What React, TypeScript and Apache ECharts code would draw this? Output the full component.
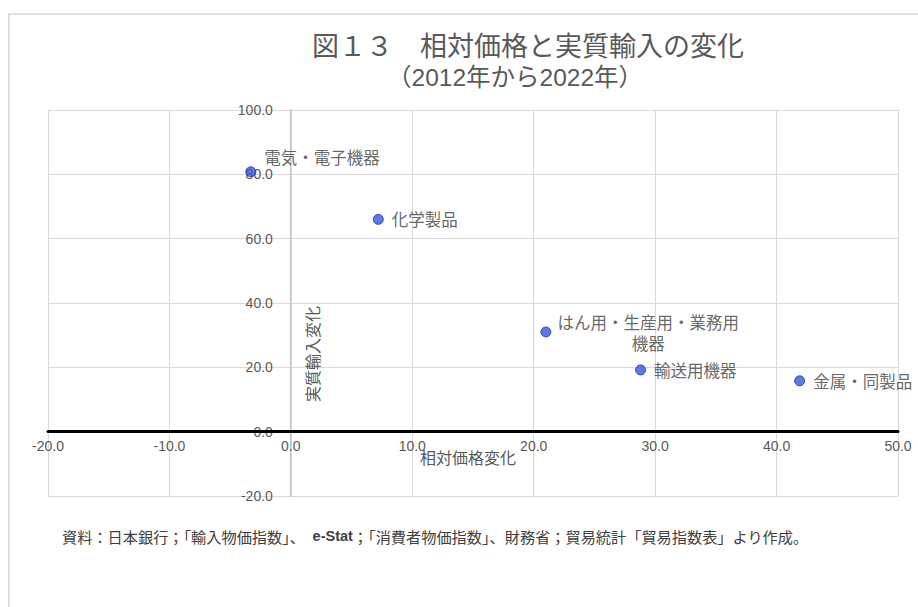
import React, { useEffect, useRef } from "react";
import * as echarts from "echarts";

const categories = ["電気・電子機器", "化学製品", "はん用・生産用・業務用\n機器", "輸送用機器", "金属・同製品"];
const relativePriceChange = [-3.3, 7.2, 21.0, 28.8, 41.9];
const realImportChange = [80.8, 66.0, 31.0, 19.2, 15.8];

const xTicks = { min: -20, max: 50, interval: 10 };
const yTicks = { min: -20, max: 100, interval: 20 };

const titleText = "図１３　相対価格と実質輸入の変化";
const subtitleText = "（2012年から2022年）";
const xAxisTitle = "相対価格変化";
const yAxisTitle = "実質輸入変化";

const LATIN = "'Liberation Sans', 'Noto Sans CJK JP', sans-serif";
const CJK = "'Noto Sans CJK JP', 'Liberation Sans', sans-serif";

const GRID = { left: 48, right: 20, top: 110, bottom: 111 };
const W = 918;
const H = 607;

export default function App() {
  const ref = useRef<HTMLDivElement>(null);
  useEffect(() => {
    if (!ref.current) return;
    const chart = echarts.init(ref.current, null, { renderer: "svg" });

    const plotW = W - GRID.left - GRID.right;
    const plotH = H - GRID.top - GRID.bottom;
    // distance from the grid edges to the zero lines (so tick labels sit next to the zero axes)
    const xAxisOffset = -((0 - yTicks.min) / (yTicks.max - yTicks.min)) * plotH;
    const yAxisOffset = -((0 - xTicks.min) / (xTicks.max - xTicks.min)) * plotW;

    const labelCfg: Record<number, any> = {
      0: { position: "right", distance: 8, offset: [0, -15] },
      1: { position: "right", distance: 8 },
      2: { position: "right", distance: 5, align: "center", offset: [92, 1], lineHeight: 21 },
      3: { position: "right", distance: 8 },
      4: { position: "right", distance: 8 },
    };

    const data = categories.map((name, i) => ({
      name,
      value: [relativePriceChange[i], realImportChange[i]],
      label: {
        show: true,
        formatter: name,
        color: "#404040",
        fontSize: 16.5,
        fontFamily: CJK,
        ...labelCfg[i],
      },
    }));

    chart.setOption({
      animation: false,
      backgroundColor: "#ffffff",
      textStyle: { fontFamily: LATIN },
      grid: { ...GRID, containLabel: false },
      xAxis: {
        type: "value",
        position: "bottom",
        offset: xAxisOffset,
        min: xTicks.min,
        max: xTicks.max,
        interval: xTicks.interval,
        axisLine: { show: true, onZero: false, lineStyle: { color: "#000000", width: 3 } },
        axisTick: { show: false },
        axisLabel: {
          color: "#595959",
          fontSize: 14,
          fontFamily: LATIN,
          margin: 7,
          formatter: (v: number) => v.toFixed(1),
        },
        splitLine: { show: true, lineStyle: { color: "#d9d9d9", width: 1 } },
        z: 5,
      },
      yAxis: {
        type: "value",
        position: "left",
        offset: yAxisOffset,
        min: yTicks.min,
        max: yTicks.max,
        interval: yTicks.interval,
        axisLine: { show: true, onZero: false, lineStyle: { color: "#bfbfbf", width: 2 } },
        axisTick: { show: false },
        axisLabel: {
          color: "#595959",
          fontSize: 14,
          fontFamily: LATIN,
          margin: 18,
          formatter: (v: number) => v.toFixed(1),
        },
        splitLine: { show: true, lineStyle: { color: "#d9d9d9", width: 1 } },
        z: 3,
      },
      series: [
        {
          type: "scatter",
          symbol: "circle",
          symbolSize: 10,
          itemStyle: { color: "#3358e0", borderColor: "#1a30b0", borderWidth: 1 },
          data,
          z: 10,
        },
      ],
      graphic: [
        {
          type: "rect",
          shape: { x: 9, y: 14, width: 930, height: 620 },
          style: { fill: "none", stroke: "#d6d6d6", lineWidth: 1.5 },
          silent: true,
          z: 1,
        },
        {
          type: "text",
          x: 528,
          y: 44,
          style: {
            text: titleText,
            fontSize: 27,
            fontFamily: CJK,
            fill: "#595959",
            align: "center",
            verticalAlign: "middle",
          },
        },
        {
          type: "text",
          x: 515,
          y: 77,
          style: {
            text: subtitleText,
            fontSize: 24.5,
            fontFamily: LATIN,
            fill: "#595959",
            align: "center",
            verticalAlign: "middle",
          },
        },
        {
          type: "text",
          x: 468,
          y: 457,
          z: 20,
          style: {
            text: xAxisTitle,
            fontSize: 16,
            fontFamily: CJK,
            fill: "#595959",
            align: "center",
            verticalAlign: "middle",
          },
        },
        {
          type: "text",
          x: 312,
          y: 354,
          rotation: Math.PI / 2,
          z: 20,
          style: {
            text: yAxisTitle,
            fontSize: 16,
            fontFamily: CJK,
            fill: "#595959",
            align: "center",
            verticalAlign: "middle",
          },
        },
        {
          type: "text",
          x: 62,
          y: 536,
          style: {
            text: "資料：日本銀行；「輸入物価指数」、{b|e-Stat}；「消費者物価指数」、財務省；貿易統計「貿易指数表」より作成。",
            fontSize: 15.2,
            fontFamily: CJK,
            fill: "#404040",
            align: "left",
            verticalAlign: "middle",
            rich: {
              b: { fontSize: 14.5, fontWeight: "bold", fontFamily: LATIN, fill: "#404040" },
            },
          },
        },
      ],
    });
    return () => chart.dispose();
  }, []);

  return (
    <div
      ref={ref}
      style={{ position: "absolute", left: 0, top: 0, width: W, height: H }}
    />
  );
}
